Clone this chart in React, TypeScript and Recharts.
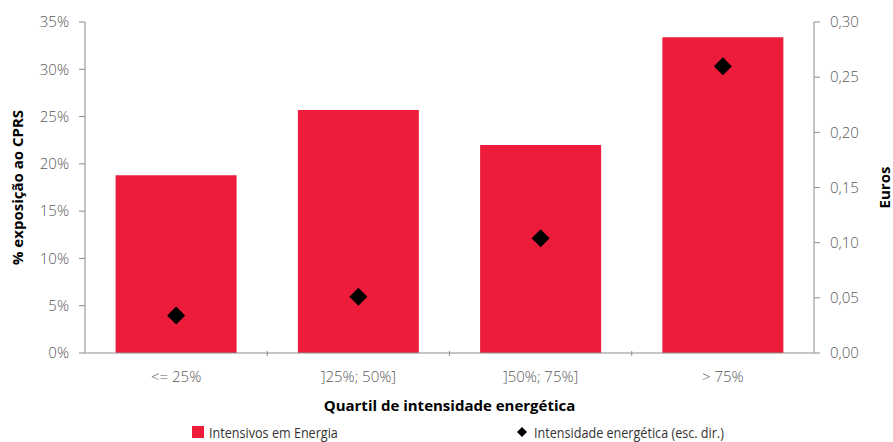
import {
  ComposedChart,
  Bar,
  Scatter,
  XAxis,
  YAxis,
  Legend,
} from "recharts";

const quartis = ["<= 25%", "]25%; 50%]", "]50%; 75%]", "> 75%"];
const exposicao = [18.8, 25.7, 22.0, 33.4];
const intensidade = [0.034, 0.051, 0.104, 0.26];
const ticksPct = [0, 5, 10, 15, 20, 25, 30, 35];
const ticksEuro = [0, 0.05, 0.1, 0.15, 0.2, 0.25, 0.3];

const data = quartis.map((q, i) => ({
  quartil: q,
  exposicao: exposicao[i],
  intensidade: intensidade[i],
}));

const RED = "#ED1C3B";
const AXIS = "#8c8c8c";
const TEXT = "#595959";
const FONT = "'Open Sans', sans-serif";

const W = 893;
const H = 442;
const LEFT_W = 85;
const RIGHT_W = 79;
const BAND = (W - LEFT_W - RIGHT_W) / quartis.length;

const tickStyle = { fill: TEXT, fontSize: 15, fontFamily: FONT, fontWeight: 300 };
const titleStyle = { fill: "#000", fontSize: 15, fontFamily: FONT, fontWeight: 700 };

// category label at the band centre, tick mark on the band boundary
function CategoryTick(props: any) {
  const { x, y, payload, index } = props;
  return (
    <g>
      {index < quartis.length - 1 && (
        <line x1={x + BAND / 2} x2={x + BAND / 2} y1={y - 10} y2={y - 5} stroke={AXIS} />
      )}
      <text x={x} y={y + 21} textAnchor="middle" {...tickStyle}>
        {payload.value}
      </text>
    </g>
  );
}

function Diamond(props: any) {
  const { cx, cy } = props;
  const r = 9;
  return (
    <polygon
      points={`${cx},${cy - r} ${cx + r},${cy} ${cx},${cy + r} ${cx - r},${cy}`}
      fill="#000"
    />
  );
}

const legendText = {
  display: "inline-block",
  color: "#333",
  transform: "scaleX(0.84)",
  transformOrigin: "left center",
  whiteSpace: "nowrap" as const,
};

function LegendBox() {
  return (
    <div
      style={{
        position: "relative",
        height: 29,
        fontFamily: FONT,
        fontSize: 15,
        fontWeight: 400,
      }}
    >
      <div style={{ position: "absolute", left: 192, top: 9, display: "flex", alignItems: "center" }}>
        <span style={{ width: 12, height: 12, background: RED, marginRight: 5 }} />
        <span style={legendText}>Intensivos em Energia</span>
      </div>
      <div style={{ position: "absolute", left: 516, top: 9, display: "flex", alignItems: "center" }}>
        <svg width={12} height={12} style={{ marginRight: 6 }}>
          <polygon points="6,1 11,6 6,11 1,6" fill="#000" />
        </svg>
        <span style={legendText}>Intensidade energética (esc. dir.)</span>
      </div>
    </div>
  );
}

export default function App() {
  return (
    <div style={{ position: "fixed", left: 0, top: 0, width: W, height: H, background: "#fff" }}>
      <ComposedChart
        width={W}
        height={H}
        data={data}
        margin={{ top: 22, right: 0, bottom: 0, left: 0 }}
        barCategoryGap="16.8%"
      >
        <XAxis
          dataKey="quartil"
          height={60}
          stroke={AXIS}
          tickLine={false}
          tick={<CategoryTick />}
          interval={0}
          label={{
            value: "Quartil de intensidade energética",
            position: "insideBottom",
            offset: 2,
            style: titleStyle,
          }}
        />
        <YAxis
          yAxisId="left"
          width={LEFT_W}
          domain={[0, 35]}
          ticks={ticksPct}
          tickFormatter={(v: number) => `${v}%`}
          stroke={AXIS}
          tick={tickStyle}
          tickMargin={10}
          interval={0}
          label={{
            value: "% exposição ao CPRS",
            angle: -90,
            position: "insideLeft",
            offset: 18,
            style: { ...titleStyle, textAnchor: "middle" },
          }}
        />
        <YAxis
          yAxisId="right"
          orientation="right"
          width={RIGHT_W}
          domain={[0, 0.3]}
          ticks={ticksEuro}
          tickFormatter={(v: number) => v.toFixed(2).replace(".", ",")}
          stroke={AXIS}
          tick={tickStyle}
          tickMargin={10}
          interval={0}
          label={{
            value: "Euros",
            angle: -90,
            position: "insideRight",
            offset: 8,
            style: { ...titleStyle, textAnchor: "middle" },
          }}
        />
        <Legend verticalAlign="bottom" height={29} content={() => <LegendBox />} />
        <Bar
          yAxisId="left"
          dataKey="exposicao"
          name="Intensivos em Energia"
          fill={RED}
          isAnimationActive={false}
        />
        <Scatter
          yAxisId="right"
          dataKey="intensidade"
          name="Intensidade energética (esc. dir.)"
          fill="#000"
          shape={<Diamond />}
          isAnimationActive={false}
        />
      </ComposedChart>
    </div>
  );
}
